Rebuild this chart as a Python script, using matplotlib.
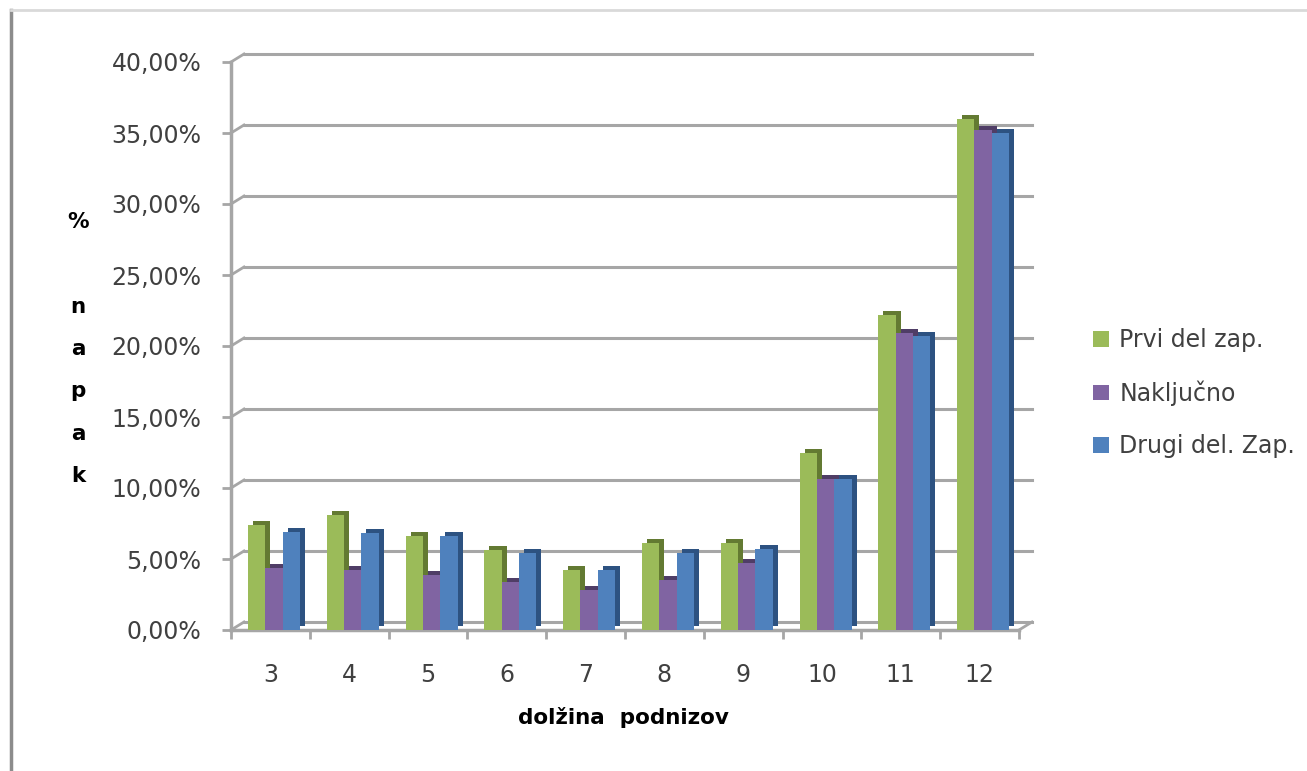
import numpy as np
import matplotlib.pyplot as plt
from matplotlib.transforms import offset_copy, IdentityTransform
from matplotlib.lines import Line2D
from matplotlib.patches import Patch

# data (percent)
lengths = [3, 4, 5, 6, 7, 8, 9, 10, 11, 12]
prvi = [7.4, 8.1, 6.6, 5.6, 4.2, 6.1, 6.1, 12.5, 22.2, 36.0]
nakljucno = [4.4, 4.2, 3.9, 3.4, 2.8, 3.5, 4.7, 10.6, 20.9, 35.2]
drugi = [6.9, 6.8, 6.6, 5.4, 4.2, 5.4, 5.7, 10.6, 20.7, 35.0]
series_names = ['Prvi del zap.', 'Naključno', 'Drugi del. Zap.']
y_ticks = [0, 5, 10, 15, 20, 25, 30, 35, 40]

colors = ['#9bbb59', '#8064a2', '#4f81bd']
dark = ['#637a32', '#4f3d66', '#2d5281']
grid_col = '#a6a6a6'

W, H = 1307, 771
fig = plt.figure(figsize=(W / 100, H / 100), dpi=100)
ax = fig.add_axes([231 / W, 1 - 630 / H, 788 / W, 568 / H])
ax.set_xlim(2.5, 12.5)
ax.set_ylim(0, 40)

# back wall, shifted up/right to fake the 3D depth
back = offset_copy(ax.transData, fig=fig, x=13, y=8, units='dots')
for t in y_ticks:
    ax.plot([2.5, 12.5], [t, t], color=grid_col, lw=2.2, transform=back,
            clip_on=False, zorder=0)
    p0 = ax.transData.transform((2.5, t))
    p1 = back.transform((2.5, t))
    fig.add_artist(Line2D([p0[0], p1[0]], [p0[1], p1[1]], color=grid_col,
                          lw=2, transform=IdentityTransform()))
p0 = ax.transData.transform((12.5, 0))
p1 = back.transform((12.5, 0))
fig.add_artist(Line2D([p0[0], p1[0]], [p0[1], p1[1]], color=grid_col,
                      lw=2, transform=IdentityTransform()))

x = np.array(lengths, dtype=float)
w = 0.22
side = offset_copy(ax.transData, fig=fig, x=5, y=4, units='dots')
all_vals = [prvi, nakljucno, drugi]
for i, vals in enumerate(all_vals):
    ax.bar(x + (i - 1) * w + 0.045, vals, w, color=dark[i], transform=side,
           zorder=2, clip_on=False)
for i, vals in enumerate(all_vals):
    ax.bar(x + (i - 1) * w + 0.045, vals, w, color=colors[i], zorder=3,
           clip_on=False)

for s in ['top', 'right']:
    ax.spines[s].set_visible(False)
for s in ['left', 'bottom']:
    ax.spines[s].set_color(grid_col)
    ax.spines[s].set_linewidth(2.5)

ax.set_yticks(y_ticks)
ax.set_yticklabels([f'{t:.2f}'.replace('.', ',') + '%' for t in y_ticks])
ax.set_xticks(lengths)
ax.set_xticklabels([str(v) for v in lengths])
ax.set_xticks(np.arange(2.5, 13, 1), minor=True)
ax.tick_params(axis='y', length=6.5, width=2, color=grid_col, pad=15,
               labelsize=17, labelcolor='#404040')
ax.tick_params(axis='x', which='major', length=0, pad=24, labelsize=17,
               labelcolor='#404040')
ax.tick_params(axis='x', which='minor', length=6.5, width=2, color=grid_col)

fig.text(623 / W, 1 - 718 / H, 'dolžina  podnizov', ha='center', va='center',
         fontsize=15.5, fontweight='bold')
fig.text(78 / W, 1 - 349 / H, '%\n\nn\na\np\na\nk', ha='center', va='center',
         fontsize=15.5, fontweight='bold', linespacing=2.4)

handles = [Patch(facecolor=c, edgecolor='none') for c in colors]
fig.legend(handles, series_names, loc='center left',
           bbox_to_anchor=(1072 / W, 1 - 393 / H), frameon=False, fontsize=17,
           handlelength=0.65, handleheight=0.65, handletextpad=0.45,
           labelspacing=1.2, labelcolor='#404040')

# chart area border
fig.add_artist(Line2D([11 / W, 11 / W], [0, 1 - 10 / H], color='#8c8c8c',
                      lw=2.5, transform=fig.transFigure))
fig.add_artist(Line2D([11 / W, 1], [1 - 10 / H, 1 - 10 / H], color='#d9d9d9',
                      lw=2, transform=fig.transFigure))

fig.savefig('out.png', dpi=100)
